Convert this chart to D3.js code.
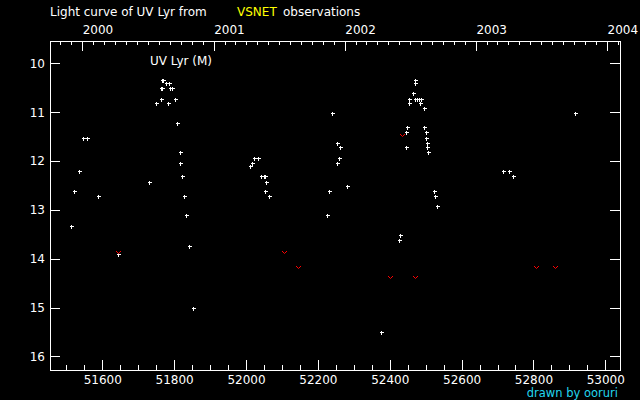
<!DOCTYPE html>
<html><head><meta charset="utf-8">
<script src="https://cdn.jsdelivr.net/npm/d3@7/dist/d3.min.js"></script>
<style>
html,body{margin:0;padding:0;background:#000;}
svg{display:block;}
text{font-family:"DejaVu Sans",sans-serif;font-size:12px;fill:#fff;}
</style></head>
<body>
<script>
// Visual (positive) observations: MJD and magnitude
const visMjd = [51514,51522,51536,51547,51558,51589,51645,51731,51750,51764,51764,51766,51765,51770,51777,51787,51784,51789,51795,51803,51809,51817,51817,51823,51828,51834,51842,51853,
  52012,52018,52023,52034,52043,52049,52054,52056,52054,52065,
  52226,52232,52240,52254,52262,52260,52254,52282,52375,52427,52429,52446,52446,52449,52455,52455,52466,52471,52471,52471,52475,52482,52488,52485,52496,52496,52502,52502,52505,52505,52507,52524,52527,52532,
  52716,52733,52744,52916];
const visMag = [13.32,12.62,12.21,11.52,11.52,12.72,13.91,12.42,10.82,10.72,10.51,10.51,10.33,10.33,10.41,10.41,10.82,10.51,10.51,10.72,11.23,11.82,12.03,12.31,12.72,13.11,13.73,15.02,
  12.11,12.03,11.93,11.93,12.31,12.31,12.31,12.42,12.62,12.72,
  13.11,12.62,11.02,11.62,11.72,11.93,12.03,12.52,15.51,13.62,13.52,11.72,11.41,11.31,10.72,10.82,10.61,10.33,10.41,10.72,10.72,10.72,10.72,10.82,10.92,11.31,11.41,11.52,11.62,11.72,11.82,12.62,12.72,12.91,
  12.21,12.21,12.31,11.02];
// Fainter-than (upper limit) observations
const limMjd = [51645,52107,52146,52402,52435,52471,52808,52861];
const limMag = [13.86,13.87,14.18,14.38,11.47,14.38,14.18,14.18];
// Axis ticks
const magTicks = [10,11,12,13,14,15,16];
const mjdMajor = [51600,51800,52000,52200,52400,52600,52800,53000];
const mjdMinorStep = 50;
const titleText = "Light curve of UV Lyr from";
const sourceText = "VSNET";
const titleTail = "observations";
const starLabel = "UV Lyr (M)";
const credit = "drawn by ooruri";

const W = 640, H = 400;
const L = 50, R = 620, T = 41, B = 370;
const svg = d3.select("body").append("svg").attr("width", W).attr("height", H)
  .style("background", "#000");

const x = d3.scaleLinear().domain([51454.4, 53040.9]).range([L, R]);
const y = d3.scaleLinear().domain([9.54, 16.28]).range([T, B]);
const MJD0 = Date.UTC(1858, 10, 17);
const toDate = m => new Date(MJD0 + m * 86400000);
const xt = d3.scaleUtc().domain(x.domain().map(toDate)).range([L, R]);

function styleAxis(g) {
  g.select(".domain").remove();
  g.selectAll("line").attr("stroke", "#fff").attr("shape-rendering", "crispEdges");
  g.selectAll("text").attr("fill", "#fff").style("font-size", "12px")
    .style("font-family", "'DejaVu Sans',sans-serif");
}

// frame
svg.append("rect").attr("x", L + 0.5).attr("y", T + 0.5).attr("width", R - L).attr("height", B - T)
  .attr("fill", "none").attr("stroke", "#fff").attr("shape-rendering", "crispEdges");

// bottom axis
const minorVals = d3.range(51500, 53040, mjdMinorStep).filter(v => !mjdMajor.includes(v));
svg.append("g").attr("transform", `translate(0,${B})`)
  .call(d3.axisBottom(x).tickValues(minorVals).tickSize(-5).tickFormat(""))
  .call(styleAxis);
svg.append("g").attr("transform", `translate(0,${B})`)
  .call(d3.axisBottom(x).tickValues(mjdMajor).tickSize(-10).tickPadding(5).tickFormat(d3.format("d")))
  .call(styleAxis);

// top axis (calendar)
const years = xt.ticks(d3.utcYear.every(1));
const months = xt.ticks(d3.utcMonth.every(1)).filter(d => d.getUTCMonth() !== 0);
svg.append("g").attr("transform", `translate(0,${T})`)
  .call(d3.axisTop(xt).tickValues(months).tickSize(-4).tickFormat(""))
  .call(styleAxis);
const ty = svg.append("g").attr("transform", `translate(0,${T})`)
  .call(d3.axisTop(xt).tickValues(years).tickSize(-10).tickPadding(7).tickFormat(d3.utcFormat("%Y")))
  .call(styleAxis);
ty.selectAll("text").attr("text-anchor", "start");

// left / right axes
svg.append("g").attr("transform", `translate(${L},0)`)
  .call(d3.axisLeft(y).tickValues(magTicks).tickSize(-10).tickPadding(5).tickFormat(d3.format("d")))
  .call(styleAxis);
svg.append("g").attr("transform", `translate(${R},0)`)
  .call(d3.axisRight(y).tickValues(magTicks).tickSize(-10).tickFormat(""))
  .call(styleAxis);

// points
const vis = visMjd.map((m, i) => ({m, v: visMag[i]}));
svg.append("g").selectAll("path").data(vis).join("path")
  .attr("transform", d => `translate(${Math.round(x(d.m)) + 0.5},${Math.round(y(d.v)) + 0.5})`)
  .attr("d", "M-2,0H2M0,-2V2")
  .attr("stroke", "#fff").attr("stroke-width", 1).attr("fill", "none")
  .attr("shape-rendering", "crispEdges");

const lim = limMjd.map((m, i) => ({m, v: limMag[i]}));
svg.append("g").selectAll("path").data(lim).join("path")
  .attr("transform", d => `translate(${Math.round(x(d.m)) + 0.5},${Math.round(y(d.v)) + 0.5})`)
  .attr("d", "M-2.5,-1.5L0,1L2.5,-1.5")
  .attr("stroke", "#f00").attr("stroke-width", 1).attr("fill", "none");

// texts
svg.append("text").attr("x", 50).attr("y", 16).text(titleText);
svg.append("text").attr("x", 237).attr("y", 16).attr("fill", "#ff0").style("fill", "#ff0").text(sourceText);
svg.append("text").attr("x", 283).attr("y", 16).text(titleTail);
svg.append("text").attr("x", 150).attr("y", 65).text(starLabel);
svg.append("text").attr("x", 618).attr("y", 397).attr("text-anchor", "end")
  .style("font-size", "11.5px").style("fill", "#22d6ee").text(credit);
</script>
</body></html>
